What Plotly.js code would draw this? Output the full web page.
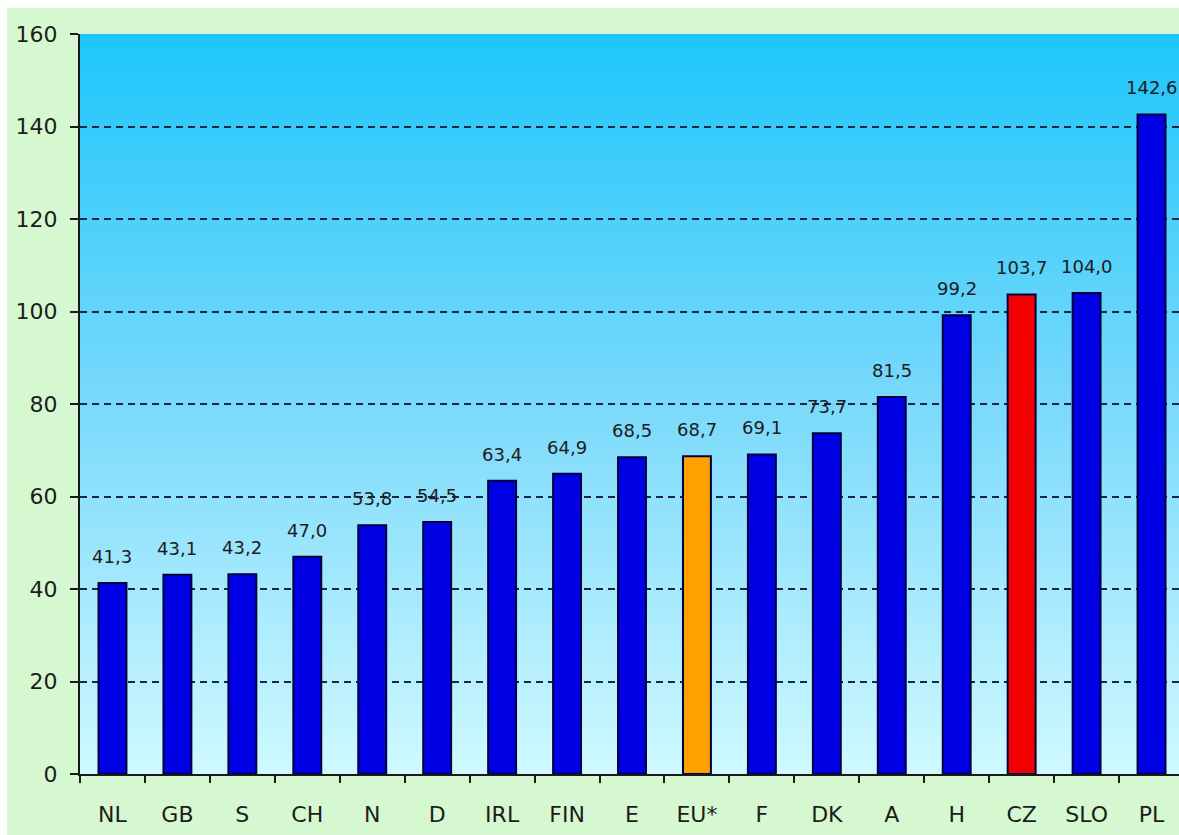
<!DOCTYPE html>
<html>
<head>
<meta charset="utf-8">
<script src="https://cdn.plot.ly/plotly-3.0.1.min.js"></script>
<style>
  html, body { margin: 0; padding: 0; background: #ffffff; overflow: hidden; width: 1179px; height: 835px; }
  #chart { position: absolute; left: 7px; top: 8px; width: 1179px; height: 827px; }
</style>
</head>
<body>
<div id="chart"></div>
<script>
// Country codes, in the order drawn
const countries = ['NL', 'GB', 'S', 'CH', 'N', 'D', 'IRL', 'FIN', 'E', 'EU*', 'F', 'DK', 'A', 'H', 'CZ', 'SLO', 'PL'];
// Value per country
const values = [41.3, 43.1, 43.2, 47.0, 53.8, 54.5, 63.4, 64.9, 68.5, 68.7, 69.1, 73.7, 81.5, 99.2, 103.7, 104.0, 142.6];
// Y axis ticks
const yTicks = [0, 20, 40, 60, 80, 100, 120, 140, 160];

// Highlighted bars: EU average in orange, CZ in red
const BLUE = '#0000e4', ORANGE = '#ffa000', RED = '#f40000';
const barColors = countries.map(c => c === 'EU*' ? ORANGE : (c === 'CZ' ? RED : BLUE));

const fmt = v => v.toFixed(1).replace('.', ',');

// Vertical sky gradient for the plotting area
const gradSvg =
  '<svg xmlns="http://www.w3.org/2000/svg" width="100" height="100" preserveAspectRatio="none">' +
  '<defs><linearGradient id="g" x1="0" y1="0" x2="0" y2="1">' +
  '<stop offset="0" stop-color="#1ec6fb"/>' +
  '<stop offset="0.5" stop-color="#7ad9fb"/>' +
  '<stop offset="1" stop-color="#cff9ff"/>' +
  '</linearGradient></defs>' +
  '<rect width="100" height="100" fill="url(#g)"/></svg>';
const gradUrl = 'data:image/svg+xml;base64,' + btoa(gradSvg);

const FONT = 'DejaVu Sans, Liberation Sans, Arial, sans-serif';
const TXT = '#1c1c1c';

const trace = {
  type: 'bar',
  x: countries,
  y: values,
  marker: { color: barColors, line: { color: '#000040', width: 2 } },
  hoverinfo: 'x+y'
};

const annotations = countries.map((c, i) => ({
  x: c, y: values[i], xref: 'x', yref: 'y',
  text: fmt(values[i]),
  showarrow: false,
  yanchor: 'bottom',
  yshift: 14,
  font: { family: FONT, size: 18, color: TXT }
}));

const layout = {
  width: 1179,
  height: 827,
  margin: { l: 73, r: 2, t: 26, b: 61, pad: 0 },
  paper_bgcolor: '#d6f8d0',
  plot_bgcolor: 'rgba(0,0,0,0)',
  bargap: 0.57,
  showlegend: false,
  separators: ', ',
  font: { family: FONT, color: TXT },
  xaxis: {
    type: 'category',
    range: [-0.5, countries.length - 0.5],
    showline: true, linecolor: '#1a1a1a', linewidth: 2,
    ticks: 'outside', tickson: 'boundaries', ticklen: 7, tickwidth: 2, tickcolor: '#1a1a1a',
    tickfont: { family: FONT, size: 22, color: TXT },
    ticklabelstandoff: 20,
    showgrid: false, zeroline: false, fixedrange: true
  },
  yaxis: {
    range: [0, 160],
    tickvals: yTicks,
    ticktext: yTicks.map(String),
    showline: true, linecolor: '#1a1a1a', linewidth: 2,
    ticks: 'outside', ticklen: 8, tickwidth: 2, tickcolor: '#1a1a1a',
    tickfont: { family: FONT, size: 22, color: TXT },
    ticklabelstandoff: 8,
    showgrid: true, gridcolor: '#1a2540', gridwidth: 2, griddash: '7px,5px',
    zeroline: false, fixedrange: true
  },
  images: [{
    source: gradUrl,
    xref: 'paper', yref: 'paper',
    x: 0, y: 1, sizex: 1, sizey: 1,
    xanchor: 'left', yanchor: 'top',
    sizing: 'stretch', layer: 'below'
  }],
  annotations: annotations
};

Plotly.newPlot('chart', [trace], layout, { displayModeBar: false, staticPlot: true });
</script>
</body>
</html>
